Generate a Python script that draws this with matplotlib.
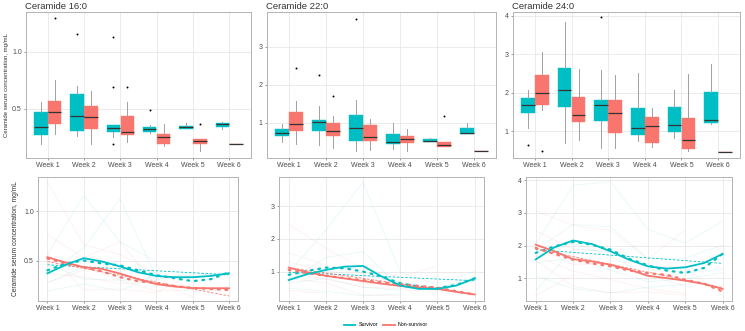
import numpy as np
import matplotlib
matplotlib.use('Agg')
import matplotlib.pyplot as plt
from matplotlib.lines import Line2D

plt.rcParams['font.family'] = ['Liberation Sans', 'DejaVu Sans']

TEAL = '#00BFC4'
RED = '#F8766D'

weeks = ['Week 1', 'Week 2', 'Week 3', 'Week 4', 'Week 5', 'Week 6']
titles = ['Ceramide 16:0', 'Ceramide 22:0', 'Ceramide 24:0']
ylabel = 'Ceramide serum concentration, mg/mL'

# box stats per week: (whisker low, q1, median, q3, whisker high)
c16_surv_box = [(0.19, 0.27, 0.345, 0.47, 0.56), (0.26, 0.31, 0.44, 0.63, 0.70),
                (0.25, 0.30, 0.33, 0.36, 0.36), (0.29, 0.30, 0.325, 0.345, 0.36),
                (0.327, 0.327, 0.339, 0.353, 0.377), (0.32, 0.34, 0.368, 0.38, 0.39)]
c16_surv_fliers = [[], [1.16], [1.13, 0.69, 0.195], [0.49], [], []]
c16_non_box = [(0.28, 0.368, 0.47, 0.567, 0.756), (0.195, 0.327, 0.43, 0.53, 0.66),
               (0.21, 0.27, 0.30, 0.44, 0.56), (0.172, 0.193, 0.254, 0.277, 0.37),
               (0.134, 0.195, 0.216, 0.237, 0.237), (0.193, 0.193, 0.193, 0.193, 0.193)]
c16_non_fliers = [[1.30], [], [0.69], [], [0.368], []]

c22_surv_box = [(0.49, 0.65, 0.73, 0.825, 0.97), (0.40, 0.79, 1.02, 1.08, 1.43),
                (0.26, 0.52, 0.87, 1.20, 1.61), (0.32, 0.43, 0.49, 0.69, 0.98),
                (0.48, 0.48, 0.51, 0.56, 0.61), (0.71, 0.71, 0.72, 0.85, 1.0)]
c22_surv_fliers = [[], [2.27], [3.74], [], [], []]
c22_non_box = [(0.43, 0.78, 0.96, 1.295, 1.58), (0.33, 0.66, 0.77, 1.0, 1.19),
               (0.28, 0.53, 0.635, 0.94, 1.09), (0.26, 0.47, 0.56, 0.66, 0.84),
               (0.35, 0.35, 0.40, 0.48, 0.48), (0.25, 0.25, 0.25, 0.25, 0.25)]
c22_non_fliers = [[2.44], [1.71], [], [], [1.17], []]

c24_surv_box = [(1.07, 1.48, 1.68, 1.87, 2.06), (0.69, 1.62, 2.08, 2.65, 3.85),
                (0.56, 1.25, 1.68, 1.82, 2.58), (0.73, 0.90, 1.07, 1.61, 2.50),
                (0.82, 0.98, 1.16, 1.62, 2.08), (1.18, 1.22, 1.29, 2.02, 2.75)]
c24_surv_fliers = [[0.63], [], [3.96], [], [], []]
c24_non_box = [(1.55, 1.69, 2.0, 2.46, 3.07), (0.76, 1.23, 1.42, 1.89, 2.62),
               (0.56, 0.96, 1.46, 1.82, 2.47), (0.59, 0.69, 1.12, 1.37, 1.59),
               (0.49, 0.54, 0.76, 1.35, 2.48), (0.46, 0.46, 0.46, 0.46, 0.46)]
c24_non_fliers = [[0.48], [], [], [], [], []]

nan = np.nan
# individual patient trajectories (faint lines)
c16_surv_ind = [[0.56, 1.16, 0.69, 0.49, nan, nan], [0.35, 0.63, 1.13, 0.33, 0.35, 0.38],
                [0.27, 0.44, 0.33, 0.32, 0.33, 0.36], [0.47, 0.31, 0.30, 0.30, 0.38, 0.34],
                [0.19, 0.26, 0.19, 0.36, nan, nan]]
c16_non_ind = [[1.30, 0.66, 0.56, 0.37, nan, nan], [0.76, 0.53, 0.69, 0.25, 0.24, nan],
               [0.47, 0.43, 0.30, 0.19, 0.20, 0.19], [0.37, 0.33, 0.27, 0.28, 0.13, nan],
               [0.57, 0.20, 0.21, 0.17, 0.37, nan], [0.28, 0.40, 0.44, nan, nan, nan]]
c22_surv_ind = [[0.97, 2.27, 3.74, 0.98, 0.61, 1.0], [0.73, 1.43, 1.61, 0.49, 0.51, 0.72],
                [0.83, 1.02, 0.87, 0.69, 0.48, 0.85], [0.65, 0.79, 0.52, 0.43, nan, nan],
                [0.49, 0.40, 0.26, 0.32, nan, nan]]
c22_non_ind = [[2.45, 1.71, 1.09, 0.84, 1.17, nan], [1.58, 1.19, 0.94, 0.66, 0.48, 0.25],
               [1.30, 1.00, 0.64, 0.56, 0.40, nan], [0.96, 0.77, 0.53, 0.47, 0.35, nan],
               [0.78, 0.66, 0.28, 0.26, nan, nan], [0.43, 0.33, nan, nan, nan, nan]]
c24_surv_ind = [[2.06, 3.85, 3.96, 2.5, 2.08, 2.75], [1.87, 2.65, 2.58, 1.61, 1.62, 2.02],
                [1.68, 2.08, 1.68, 1.07, 1.16, 1.29], [1.48, 1.62, 1.25, 0.90, 0.98, 1.18],
                [1.07, 0.69, 0.56, 0.73, 0.82, nan], [0.63, 1.9, 1.82, nan, nan, nan]]
c24_non_ind = [[3.07, 2.62, 2.47, 1.59, 2.48, nan], [2.46, 1.89, 1.82, 1.37, 1.35, 0.46],
               [2.0, 1.42, 1.46, 1.12, 0.76, nan], [1.69, 1.23, 0.96, 0.69, 0.54, nan],
               [1.55, 0.76, 0.56, 0.59, 0.49, nan], [0.48, 1.1, nan, nan, nan, nan]]

# smoothed trends, read at half-week steps (Week 1 .. Week 6)
half_weeks = [1, 1.5, 2, 2.5, 3, 3.5, 4, 4.5, 5, 5.5, 6]
c16_surv_smooth = [0.37, 0.456, 0.524, 0.49, 0.44, 0.38, 0.343, 0.33, 0.33, 0.343, 0.37]
c16_non_smooth = [0.534, 0.48, 0.432, 0.415, 0.367, 0.31, 0.26, 0.235, 0.22, 0.218, 0.218]
c16_surv_dots = [0.40, 0.47, 0.50, 0.47, 0.45, 0.40, 0.35, 0.32, 0.29, 0.31, 0.38]
c16_non_dots = [0.52, 0.47, 0.43, 0.39, 0.33, 0.29, 0.27, 0.24, 0.22, 0.21, 0.20]
c16_surv_lin = [0.456, 0.355]
c16_non_lin = [0.49, 0.14]

c22_surv_smooth = [0.74, 0.92, 1.05, 1.15, 1.17, 0.85, 0.57, 0.47, 0.47, 0.57, 0.79]
c22_non_smooth = [1.12, 0.98, 0.87, 0.79, 0.71, 0.63, 0.56, 0.51, 0.47, 0.38, 0.30]
c22_surv_dots = [0.90, 1.02, 1.12, 1.10, 1.0, 0.85, 0.64, 0.54, 0.49, 0.59, 0.79]
c22_non_dots = [1.05, 0.95, 0.87, 0.80, 0.74, 0.67, 0.61, 0.56, 0.51, 0.40, 0.30]
c22_surv_lin = [0.98, 0.72]
c22_non_lin = [1.12, 0.30]

c24_surv_smooth = [1.58, 1.95, 2.16, 2.05, 1.83, 1.57, 1.37, 1.30, 1.34, 1.47, 1.75]
c24_non_smooth = [2.03, 1.83, 1.59, 1.52, 1.42, 1.27, 1.08, 1.01, 0.93, 0.83, 0.68]
c24_surv_dots = [1.78, 1.98, 2.12, 2.03, 1.88, 1.60, 1.40, 1.24, 1.17, 1.32, 1.75]
c24_non_dots = [1.93, 1.75, 1.57, 1.46, 1.37, 1.24, 1.16, 1.11, 0.96, 0.84, 0.60]
c24_surv_lin = [1.88, 1.46]
c24_non_lin = [1.90, 0.72]

box_ylims = [(0.07, 1.35), (0.07, 3.92), (0.30, 4.10)]
line_ylims = [(0.088, 1.35), (0.10, 3.89), (0.31, 4.10)]
yticks = [[0.5, 1.0], [1, 2, 3], [1, 2, 3, 4]]
yticklabels = [['0.5', '1.0'], ['1', '2', '3'], ['1', '2', '3', '4']]

W, H = 745, 331
fig = plt.figure(figsize=(W / 100, H / 100), dpi=100)


def px_axes(l, t, r, b):
    return fig.add_axes([l / W, 1 - b / H, (r - l) / W, (b - t) / H])


def style(ax, ylim, ticks, labels):
    ax.set_ylim(*ylim)
    ax.set_xticks(range(1, 7))
    ax.set_xticklabels(weeks)
    ax.set_yticks(ticks)
    ax.set_yticklabels(labels)
    ax.tick_params(labelsize=5, colors='#4d4d4d', length=1.5, width=0.4, pad=1.5)
    ax.grid(True, color='#e3e3e3', linewidth=0.5)
    ax.set_axisbelow(True)
    for s in ax.spines.values():
        s.set_color('#b3b3b3')
        s.set_linewidth(0.7)


def draw_boxes(ax, boxes, fliers, offset, color):
    stats = [dict(whislo=lo, q1=q1, med=med, q3=q3, whishi=hi, fliers=fl)
             for (lo, q1, med, q3, hi), fl in zip(boxes, fliers)]
    ax.bxp(stats, positions=np.arange(1, 7) + offset, widths=0.37, patch_artist=True,
           showcaps=False, manage_ticks=False,
           boxprops=dict(facecolor=color, edgecolor=color, linewidth=0.3),
           whiskerprops=dict(color='#a0a0a0', linewidth=0.7),
           medianprops=dict(color='#333333', linewidth=0.9),
           flierprops=dict(marker='o', markersize=1.4, markerfacecolor='black',
                           markeredgecolor='none'))


box_data = [(c16_surv_box, c16_surv_fliers, c16_non_box, c16_non_fliers),
            (c22_surv_box, c22_surv_fliers, c22_non_box, c22_non_fliers),
            (c24_surv_box, c24_surv_fliers, c24_non_box, c24_non_fliers)]
line_data = [(c16_surv_ind, c16_non_ind, c16_surv_smooth, c16_non_smooth,
              c16_surv_dots, c16_non_dots, c16_surv_lin, c16_non_lin),
             (c22_surv_ind, c22_non_ind, c22_surv_smooth, c22_non_smooth,
              c22_surv_dots, c22_non_dots, c22_surv_lin, c22_non_lin),
             (c24_surv_ind, c24_non_ind, c24_surv_smooth, c24_non_smooth,
              c24_surv_dots, c24_non_dots, c24_surv_lin, c24_non_lin)]

top_pos = [(26, 12, 251, 158), (267, 12, 496, 158), (513, 12, 740, 158)]
bot_pos = [(38, 177, 238, 301), (279, 177, 484, 301), (526, 177, 732, 301)]

for i in range(3):
    ax = px_axes(*top_pos[i])
    sb, sf, nb, nf = box_data[i]
    draw_boxes(ax, sb, sf, -0.19, TEAL)
    draw_boxes(ax, nb, nf, 0.19, RED)
    ax.set_xlim(0.4, 6.6)
    style(ax, box_ylims[i], yticks[i], yticklabels[i])
    ax.set_title(titles[i], loc='left', fontsize=6.8, color='#333333', pad=2, x=-0.005)
    if i == 0:
        ax.set_ylabel(ylabel, fontsize=4.3, color='#333333', labelpad=2)

    bx = px_axes(*bot_pos[i])
    s_ind, n_ind, s_sm, n_sm, s_dt, n_dt, s_lin, n_lin = line_data[i]
    x = np.arange(1, 7)
    for row in s_ind:
        bx.plot(x, row, color=TEAL, alpha=0.1, linewidth=0.6)
    for row in n_ind:
        bx.plot(x, row, color=RED, alpha=0.1, linewidth=0.6)
    bx.plot([1, 6], s_lin, color=TEAL, linestyle='--', linewidth=0.6, dashes=(3, 2))
    bx.plot([1, 6], n_lin, color=RED, linestyle='--', linewidth=0.6, dashes=(3, 2))
    bx.plot(half_weeks, s_dt, color=TEAL, linewidth=1.6, linestyle=(0, (0.8, 2.6)),
            dash_capstyle='round')
    bx.plot(half_weeks, n_dt, color=RED, linewidth=1.6, linestyle=(0, (0.8, 2.6)),
            dash_capstyle='round')
    bx.plot(half_weeks, n_sm, color=RED, linewidth=1.3)
    bx.plot(half_weeks, s_sm, color=TEAL, linewidth=1.3)
    bx.set_xlim(0.74, 6.25)
    style(bx, line_ylims[i], yticks[i], yticklabels[i])
    if i == 0:
        bx.set_ylabel(ylabel, fontsize=4.8, color='#333333', labelpad=4)

handles = [Line2D([], [], color=TEAL, linewidth=1.3), Line2D([], [], color=RED, linewidth=1.3)]
fig.legend(handles, ['Survivor', 'Non-survivor'], loc='center', ncol=2,
           bbox_to_anchor=(386 / W, 1 - 325 / H), frameon=False, fontsize=3.8,
           handlelength=2.2, columnspacing=1.0, handletextpad=0.6)

fig.savefig('out.png', dpi=100)
